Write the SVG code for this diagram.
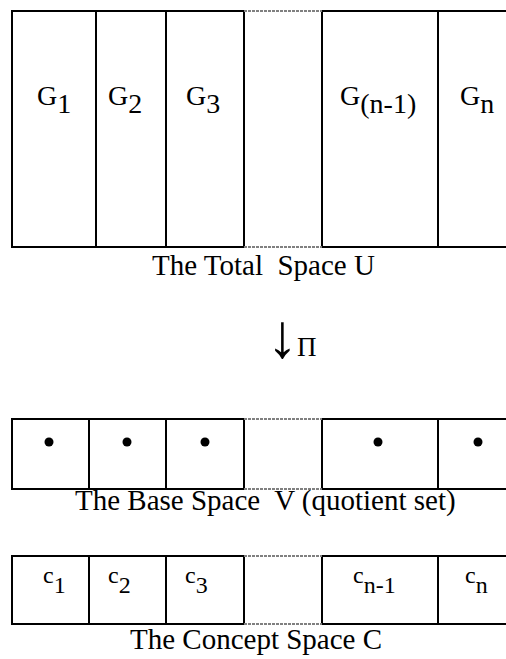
<svg xmlns="http://www.w3.org/2000/svg" width="506" height="659" viewBox="0 0 506 659">
<style>
.ln{stroke:#000;stroke-width:2;fill:none}
.dash{stroke:#808080;stroke-width:2;stroke-dasharray:3 1;fill:none}
.t{font-family:"Liberation Serif","Times New Roman",serif;fill:#000}
.lbl{font-size:29px}
.g{font-size:28px}
.c{font-size:24px}
</style>
<rect width="506" height="659" fill="#fff"/>
<g id="connectors">
<text class="t" x="267" y="357" font-size="62" font-weight="bold">↓</text>
<text class="t" x="297" y="356" font-size="27">Π</text>
</g>
<g id="total-space">
<path class="ln" d="M12 11H244M322 11H506M12 247H244M322 247H506M12 10V248M96 11V247M166 11V247M244 11V247M322 11V247M438 11V247"/>
<path class="dash" d="M244 11H322M244 247H322"/>
<text class="t g" x="37" y="105">G<tspan dy="8">1</tspan></text>
<text class="t g" x="108" y="105">G<tspan dy="8">2</tspan></text>
<text class="t g" x="186" y="105">G<tspan dy="8">3</tspan></text>
<text class="t g" x="340" y="105">G<tspan dy="8">(n-1)</tspan></text>
<text class="t g" x="460" y="105">G<tspan dy="8">n</tspan></text>
<text class="t lbl" x="152" y="275" xml:space="preserve">The Total  Space U</text>
</g>
<g id="base-space">
<path class="ln" d="M12 419H244M322 419H506M12 489H244M322 489H506M12 418V490M89 419V489M166 419V489M244 419V489M322 419V489M438 419V489"/>
<path class="dash" d="M244 419H322M244 489H322"/>
<circle cx="49" cy="442" r="4.5"/>
<circle cx="127" cy="442" r="4.5"/>
<circle cx="205" cy="442" r="4.5"/>
<circle cx="378" cy="442" r="4.5"/>
<circle cx="478" cy="442" r="4.5"/>
<text class="t lbl" x="75" y="510" xml:space="preserve">The Base Space  V (quotient set)</text>
</g>
<g id="concept-space">
<path class="ln" d="M12 556H244M322 556H506M12 624H244M322 624H506M12 555V625M89 556V624M166 556V624M244 556V624M322 556V624M438 556V624"/>
<path class="dash" d="M244 556H322M244 624H322"/>
<text class="t c" x="43" y="583">c<tspan dy="10">1</tspan></text>
<text class="t c" x="108" y="583">c<tspan dy="10">2</tspan></text>
<text class="t c" x="185" y="583">c<tspan dy="10">3</tspan></text>
<text class="t c" x="353" y="583">c<tspan dy="10">n-1</tspan></text>
<text class="t c" x="465" y="583">c<tspan dy="10">n</tspan></text>
<text class="t lbl" x="130" y="649">The Concept Space C</text>
</g>
</svg>
